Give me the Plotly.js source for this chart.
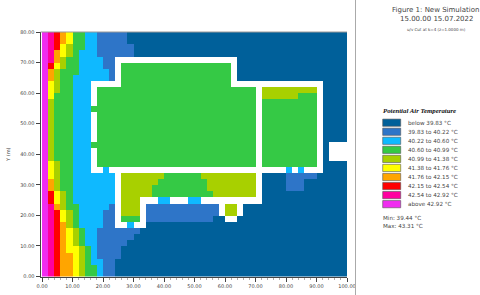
<!DOCTYPE html>
<html>
<head>
<meta charset="utf-8">
<script src="https://cdn.plot.ly/plotly-3.0.1.min.js"></script>
<style>html,body{margin:0;padding:0;background:#fff}#c{width:480px;height:295px}</style>
</head>
<body>
<div id="c"></div>
<script>
// Temperature band of each 2 m x 2 m cell, top row first, in groups of ten columns. "." is a solid cell (no value).
var bandRows = [
"9876533221 1111000000 0000000000 0000000000 0000000000",
"9876533221 1111000000 0000000000 0000000000 0000000000",
"9875433221 1111100000 0000000000 0000000000 0000000000",
"9865432221 1111100000 0000000000 0000000000 0000000000",
"9864332222 11........ .......... ..00000000 0000000000",
"9754332222 11.3333333 3333333333 3.00000000 0000000000",
"9643332222 21.3333333 3333333333 3.00000000 0000000000",
"9643322222 21.3333333 3333333333 3.00000000 0000000000",
"95433222.. ...3333333 3333333333 3......... ......0000",
"95433222.3 3333333333 3333333333 33333.4444 44444.0000",
"95333222.3 3333333333 3333333333 33333.4444 44333.0000",
"94333222.3 3333333333 3333333333 33333.3333 33333.0000",
"9433322233 3333333333 3333333333 33333.3333 33333.0000",
"94333222.3 3333333333 3333333333 33333.3333 33333.0000",
"94333222.3 3333333333 3333333333 33333.3333 33333.0000",
"94333222.3 3333333333 3333333333 33333.3333 33333.0000",
"94333222.3 3333333333 3333333333 33333.3333 33333.0000",
"94333222.3 3333333333 3333333333 33333.3333 33333.0000",
"9433322233 3333333333 3333333333 33333.3333 33333.0...",
"94333222.3 3333333333 3333333333 33333.3333 33333.0...",
"94333222.3 3333333333 3333333333 33333.3333 33333.0...",
"95433222.3 3333333333 3333333333 33333.3333 33333.0000",
"95433222.. 2......... .......... .......... 2.2...0000",
"9543322222 22.4444444 3333334444 44444.0000 1111100000",
"9643322222 22.4444443 3333333444 44444.0000 1110000000",
"9643322222 22.4444433 3333333444 44444.0000 1110000000",
"9754322222 22.4444433 3333333344 44444.0000 0000000000",
"9754322222 22.444...2 2...22.... ......0000 0000000000",
"9864332222 21.444.111 111111111. 44.0000000 0000000000",
"9875432222 11.444.111 111111111. 44.0000000 0000000000",
"9875432222 11.333.111 1111111100 ..00000000 0000000000",
"9876432222 11..2..000 0000000000 0000000000 0000000000",
"9876543221 1111110000 0000000000 0000000000 0000000000",
"9876543221 1111100000 0000000000 0000000000 0000000000",
"9876543221 1111000000 0000000000 0000000000 0000000000",
"9876554321 1110000000 0000000000 0000000000 0000000000",
"9876654321 1110000000 0000000000 0000000000 0000000000",
"9876654322 1100000000 0000000000 0000000000 0000000000",
"9876654332 1100000000 0000000000 0000000000 0000000000",
"9876654332 1100000000 0000000000 0000000000 0000000000"
];
var bandColors = ["#00609a","#2e75c8","#0fb9ff","#35c945","#a8d000","#ffff00","#ffa500","#ff0000","#ff00a0","#f02cf0"];
var bandLabels = ["below 39.83 °C","39.83 to 40.22 °C","40.22 to 40.60 °C","40.60 to 40.99 °C","40.99 to 41.38 °C","41.38 to 41.76 °C","41.76 to 42.15 °C","42.15 to 42.54 °C","42.54 to 42.92 °C","above 42.92 °C"];
var titleLines = ["Figure 1: New Simulation","15.00.00 15.07.2022"];
var subTitle = "u/v Cut at k=4 (z=1.0000 m)";
var legendTitle = "Potential Air Temperature";
var statLines = ["Min: 39.44 °C","Max: 43.31 °C"];
var xRange = [-0.5,100], yRange = [0,80];

var W=480,H=295;
function px(x){return x/W;}
function py(y){return 1-y/H;}
var z = bandRows.slice().reverse().map(function(r){
  return r.replace(/ /g,'').split('').map(function(ch){return ch==='.'?null:(+ch)+0.5;});
});
var scale=[];
bandColors.forEach(function(c,i){scale.push([i/10,c]);scale.push([(i+1)/10,c]);});
var fam='"DejaVu Sans", sans-serif', grey='#444';
var shapes=[
 {type:'line',xref:'paper',yref:'paper',x0:px(355.5),x1:px(355.5),y0:0,y1:1,line:{color:'#aaa',width:1}},
 {type:'line',xref:'paper',yref:'paper',x0:px(40.5),x1:px(347),y0:py(32),y1:py(32),line:{color:'#999',width:1}}
];
var ann=[];
function text(t,x,y,size,anchor,extra){
  var a={text:t,xref:'paper',yref:'paper',x:px(x),y:py(y),xanchor:anchor,yanchor:'middle',showarrow:false,
         font:{family:fam,size:size,color:grey},borderpad:0,borderwidth:0};
  if(extra){a.font=Object.assign(a.font,extra);}
  ann.push(a);
}
text(titleLines[0],435,10,7,'center');
text(titleLines[1],436.5,19.5,7,'center');
text(subTitle,436.5,30,4,'center');
text('<b><i>'+legendTitle+'</i></b>',383,110,6.8,'left',{family:'"Liberation Serif", serif',color:'#111'});
bandLabels.forEach(function(l,i){
  var yc=122.7+9.05*i;
  shapes.push({type:'rect',xref:'paper',yref:'paper',x0:px(382.7),x1:px(400.7),y0:py(yc-3.6),y1:py(yc+3.6),
    fillcolor:bandColors[i],line:{color:'#555',width:0.6}});
  text(l,408,yc,5.6,'left');
});
text(statLines[0],383,218,5.6,'left');
text(statLines[1],383,225.7,5.6,'left');

var trace={type:'heatmap',z:z,x0:1,dx:2,y0:1,dy:2,zmin:0,zmax:10,colorscale:scale,
  showscale:false,hoverinfo:'skip',zsmooth:false};

var tickFont={family:fam,size:5,color:grey};
var layout={
 width:W,height:H,margin:{l:0,r:0,t:0,b:0},paper_bgcolor:'#fff',plot_bgcolor:'#fff',showlegend:false,
 xaxis:{domain:[px(40.5),px(347)],range:xRange,tick0:0,dtick:10,ticks:'outside',ticklen:4,tickwidth:1,tickcolor:grey,
   showline:true,linecolor:grey,linewidth:1,showgrid:false,zeroline:false,tickformat:'.2f',tickfont:tickFont,
   minor:{dtick:2,ticks:'outside',ticklen:2,tickwidth:0.6,tickcolor:'#777',showgrid:false}},
 yaxis:{domain:[py(276.5),py(32)],range:yRange,tick0:0,dtick:10,ticks:'outside',ticklen:4,tickwidth:1,tickcolor:grey,
   showline:true,linecolor:grey,linewidth:1,showgrid:false,zeroline:false,tickformat:'.2f',tickfont:tickFont,
   title:{text:'Y (m)',font:{family:fam,size:5,color:grey},standoff:9}},
 shapes:shapes,annotations:ann
};
Plotly.newPlot('c',[trace],layout,{displayModeBar:false,staticPlot:true});
</script>
</body>
</html>
